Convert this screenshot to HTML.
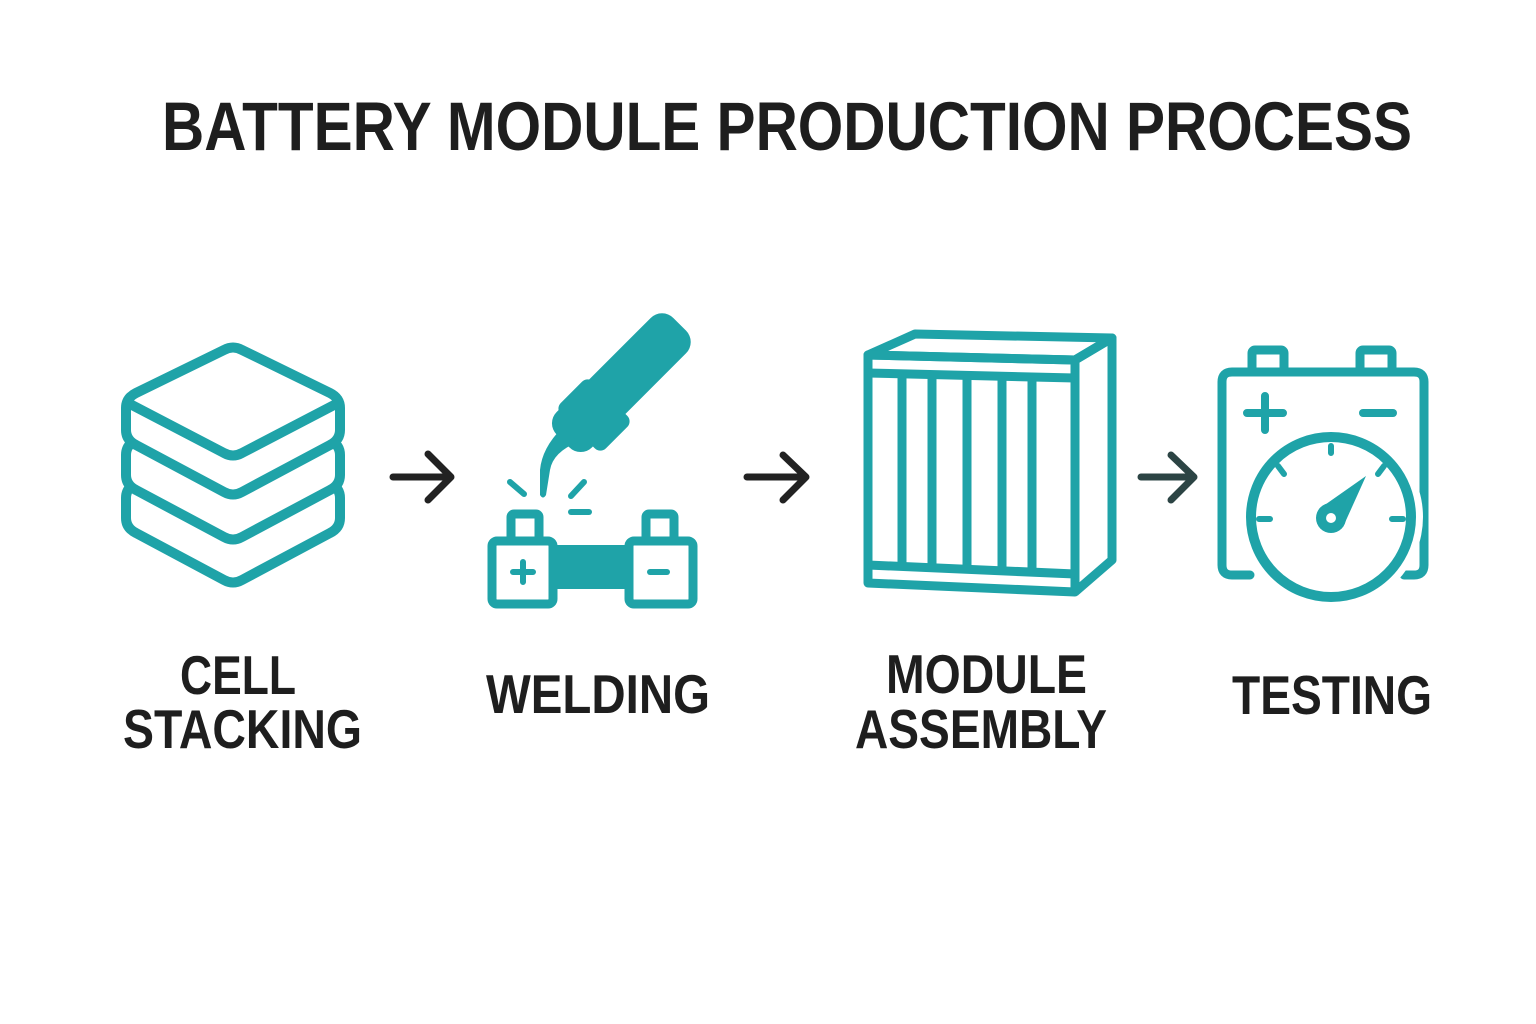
<!DOCTYPE html>
<html><head><meta charset="utf-8"><style>
html,body{margin:0;padding:0;background:#fff;}
svg{display:block}
text{font-family:"Liberation Sans",sans-serif;font-weight:bold;fill:#1e1e1e}
</style></head><body>
<svg width="1536" height="1024" viewBox="0 0 1536 1024" xmlns="http://www.w3.org/2000/svg">
<text x="162" y="150" font-size="69" textLength="1250" lengthAdjust="spacingAndGlyphs">BATTERY MODULE PRODUCTION PROCESS</text>

<g fill="#fff" stroke="#1fa3a8" stroke-width="10" stroke-linejoin="round" stroke-linecap="round">
<!-- cell stack -->
<path d="M233,433 L330,483 Q340,488 340,498 L340,518 Q340,528 330,533 L242,580 Q233,585 224,580 L136,533 Q126,528 126,518 L126,498 Q126,488 136,483 Z"/>
<path d="M233,390 L330,440 Q340,445 340,455 L340,475 Q340,485 330,490 L242,537 Q233,542 224,537 L136,490 Q126,485 126,475 L126,455 Q126,445 136,440 Z"/>
<path d="M242,350 L330,393 Q340,398 340,408 L340,430 Q340,440 330,445 L242,492 Q233,497 224,492 L136,445 Q126,440 126,430 L126,408 Q126,398 136,393 L224,350 Q233,345 242,350 Z"/>
<path d="M130,404 L224,453 Q233,458 242,453 L336,404" fill="none"/>
</g>

<!-- arrows -->
<g fill="none" stroke="#222" stroke-width="7" stroke-linecap="round" stroke-linejoin="round">
<path d="M393,477 H450 M428,454 L451,477 L428,500"/>
<path d="M747,477 H805 M783,455 L806,477 L783,500"/>
<path stroke="#2c4444" d="M1141,477 H1193 M1171,455 L1194,477 L1171,500"/>
</g>

<!-- welding -->
<g fill="#1fa3a8">
<rect x="596" y="300" width="50" height="165" rx="16" transform="rotate(45 621 383)"/>
<rect x="562" y="392" width="64" height="46" rx="8" transform="rotate(45 594 415)"/>
<path d="M562,428 Q542,448 540,470 L540,495 Q543,500 546,495 L550,470 Q553,452 578,442 Z"/>
</g>
<g stroke="#1fa3a8" stroke-width="6" stroke-linecap="round" fill="none">
<path d="M510,482 L524,494"/><path d="M571,496 L584,482"/><path d="M571,512 H589"/>
</g>
<g fill="none" stroke="#1fa3a8" stroke-width="9" stroke-linejoin="round">
<rect x="492" y="541" width="61" height="63" rx="5"/>
<rect x="511" y="514" width="28" height="27" rx="3"/>
<rect x="629" y="541" width="64" height="63" rx="5"/>
<rect x="646" y="514" width="28" height="27" rx="3"/>
</g>
<rect x="555" y="545" width="72" height="44" fill="#1fa3a8"/>
<g stroke="#1fa3a8" stroke-width="6" stroke-linecap="round">
<path d="M513,572 H533 M523,562 V582"/><path d="M650,572 H667"/>
</g>

<!-- module -->
<g fill="none" stroke="#1fa3a8" stroke-width="9" stroke-linejoin="round">
<path d="M868,355 L915,334 L1112,338 L1075,360 Z"/>
<path d="M1075,360 L1112,338 L1112,560 L1075,592"/>
<path d="M868,355 L1075,360 L1075,592 L868,583 Z"/>
<path d="M868,373 L1075,378"/>
<path d="M868,565 L1075,574"/>
<path d="M902,375 V566 M932,376 V567 M967,377 V568 M1002,378 V569 M1032,378 V570"/>
</g>

<!-- testing -->
<g fill="none" stroke="#1fa3a8" stroke-width="9" stroke-linejoin="round" stroke-linecap="round">
<rect x="1252" y="350" width="32" height="22" rx="3"/>
<rect x="1360" y="350" width="32" height="22" rx="3"/>
<path d="M1250,575 H1232 Q1222,575 1222,565 V382 Q1222,372 1232,372 H1414 Q1424,372 1424,382 V565 Q1424,575 1414,575 H1404"/>
<path d="M1247,413 H1283 M1265,396 V430" stroke-width="8"/>
<path d="M1363,413 H1393" stroke-width="8"/>
</g>
<circle cx="1331" cy="517" r="92" fill="#fff"/>
<circle cx="1331" cy="517" r="80" fill="none" stroke="#1fa3a8" stroke-width="10"/>
<g stroke="#1fa3a8" stroke-width="6" stroke-linecap="round">
<path d="M1331,446 V453 M1278,466 L1284,474 M1384,466 L1378,474 M1259,519 H1270 M1392,519 H1403"/>
</g>
<path d="M1319,509 L1366,476 L1343,527 Z" fill="#1fa3a8"/>
<circle cx="1331" cy="518" r="15" fill="#1fa3a8"/>
<circle cx="1331" cy="518" r="5" fill="#fff"/>

<!-- labels -->
<g font-size="55">
<text x="180" y="694" textLength="116" lengthAdjust="spacingAndGlyphs">CELL</text>
<text x="123" y="748" textLength="239" lengthAdjust="spacingAndGlyphs">STACKING</text>
<text x="486" y="713" textLength="224" lengthAdjust="spacingAndGlyphs">WELDING</text>
<text x="886" y="693" textLength="201" lengthAdjust="spacingAndGlyphs">MODULE</text>
<text x="855" y="748" textLength="252" lengthAdjust="spacingAndGlyphs">ASSEMBLY</text>
<text x="1232" y="714" textLength="200" lengthAdjust="spacingAndGlyphs">TESTING</text>
</g>
</svg>
</body></html>
